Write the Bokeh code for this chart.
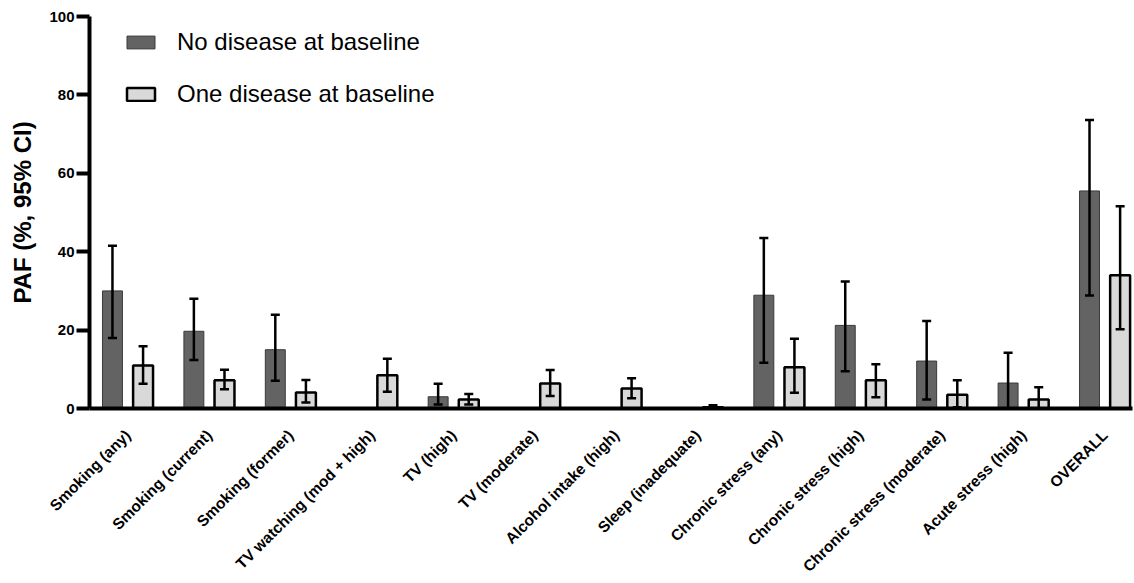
import numpy as np
from bokeh.plotting import figure
from bokeh.models import (ColumnDataSource, Whisker, TeeHead, Range1d, FixedTicker,
                          Legend, LegendItem)
from bokeh.embed import file_html
from bokeh.resources import INLINE

categories = ["Smoking (any)", "Smoking (current)", "Smoking (former)",
              "TV watching (mod + high)", "TV (high)", "TV (moderate)",
              "Alcohol intake (high)", "Sleep (inadequate)", "Chronic stress (any)",
              "Chronic stress (high)", "Chronic stress (moderate)", "Acute stress (high)",
              "OVERALL"]

no_disease = [30.0, 19.7, 15.0, None, 3.0, None, None, None, 28.9, 21.2, 12.1, 6.5, 55.5]
no_lower = [18.0, 12.4, 7.1, None, 1.0, None, None, None, 11.7, 9.5, 2.3, 0.0, 28.8]
no_upper = [41.5, 28.0, 23.9, None, 6.3, None, None, None, 43.5, 32.4, 22.3, 14.2, 73.6]

one_disease = [11.0, 7.2, 4.1, 8.5, 2.3, 6.4, 5.1, 0.3, 10.5, 7.2, 3.5, 2.3, 34.0]
one_lower = [6.3, 4.9, 1.5, 4.3, 1.0, 3.2, 2.6, 0.0, 4.0, 2.9, 0.3, 0.0, 20.2]
one_upper = [15.9, 9.9, 7.3, 12.7, 3.7, 9.8, 7.7, 0.8, 17.8, 11.3, 7.2, 5.4, 51.6]

y_ticks = [0, 20, 40, 60, 80, 100]

OFFSET = 0.188
BAR_W = 0.245
idx = np.arange(len(categories))

def build(vals, lo, hi, shift):
    keep = [i for i, v in enumerate(vals) if v is not None]
    return ColumnDataSource(dict(
        x=[idx[i] + shift for i in keep],
        top=[vals[i] for i in keep],
        lower=[lo[i] for i in keep],
        upper=[hi[i] for i in keep],
    ))

src_no = build(no_disease, no_lower, no_upper, -OFFSET)
src_one = build(one_disease, one_lower, one_upper, OFFSET)

p = figure(width=1134, height=583,
           x_range=Range1d(-0.47, 12.34), y_range=Range1d(0, 100),
           output_backend="svg", toolbar_location=None,
           min_border_left=89, min_border_right=2, min_border_top=16, min_border_bottom=175)

r_no = p.vbar(x="x", top="top", width=BAR_W, bottom=0, source=src_no,
              fill_color="#636363", line_color="#3a3a3a", line_width=1)
r_one = p.vbar(x="x", top="top", width=BAR_W, bottom=0, source=src_one,
               fill_color="#d9d9d9", line_color="black", line_width=2.5)

for src in (src_no, src_one):
    w = Whisker(base="x", lower="lower", upper="upper", source=src, dimension="height",
                line_color="black", line_width=2.5, level="annotation",
                upper_head=TeeHead(size=9, line_width=2.5, line_color="black"),
                lower_head=TeeHead(size=9, line_width=2.5, line_color="black"))
    p.add_layout(w)

p.xgrid.visible = False
p.ygrid.visible = False
p.outline_line_color = None

# Y axis
p.yaxis.ticker = FixedTicker(ticks=y_ticks)
p.yaxis.axis_label = "PAF (%, 95% CI)"
p.yaxis.axis_label_text_font = "Liberation Sans"
p.yaxis.axis_label_text_font_style = "bold"
p.yaxis.axis_label_text_font_size = "24px"
p.yaxis.axis_label_text_color = "black"
p.yaxis.axis_label_standoff = 10
p.yaxis.major_label_text_font = "Liberation Sans"
p.yaxis.major_label_text_font_style = "bold"
p.yaxis.major_label_text_font_size = "15px"
p.yaxis.major_label_text_color = "black"
p.yaxis.major_label_standoff = 2
p.yaxis.axis_line_width = 4
p.yaxis.axis_line_color = "black"
p.yaxis.major_tick_line_width = 4
p.yaxis.major_tick_line_color = "black"
p.yaxis.major_tick_out = 13
p.yaxis.major_tick_in = 0
p.yaxis.minor_tick_line_color = None

# X axis
p.xaxis.ticker = FixedTicker(ticks=list(idx))
p.xaxis.major_label_overrides = {int(i): c for i, c in zip(idx, categories)}
p.xaxis.major_label_orientation = np.pi / 4
p.xaxis.major_label_text_font = "Liberation Sans"
p.xaxis.major_label_text_font_style = "bold"
p.xaxis.major_label_text_font_size = "15.5px"
p.xaxis.major_label_text_color = "black"
p.xaxis.major_label_standoff = 18
p.xaxis.axis_line_width = 4
p.xaxis.axis_line_color = "black"
p.xaxis.major_tick_line_color = None
p.xaxis.minor_tick_line_color = None

legend = Legend(items=[LegendItem(label="No disease at baseline", renderers=[r_no]),
                       LegendItem(label="One disease at baseline", renderers=[r_one])],
                location=(34, 300), padding=0, margin=0,
                border_line_alpha=0, background_fill_alpha=0,
                glyph_width=35, glyph_height=16, label_standoff=19, spacing=24,
                label_text_font="Liberation Sans", label_text_font_size="24px",
                label_height=28, label_text_color="black")
p.add_layout(legend)

open("out.html", "w").write(file_html(p, INLINE))
